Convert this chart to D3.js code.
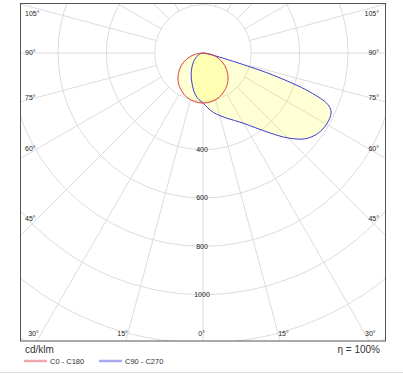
<!DOCTYPE html>
<html><head><meta charset="utf-8">
<script src="https://cdn.jsdelivr.net/npm/d3@7"></script>
<style>html,body{margin:0;padding:0;background:#fff;}svg{display:block;}</style>
</head><body>
<svg id="chart" width="403" height="375"></svg>
<script>
// ---- data (cd/klm) ----
const gammaRed = [0,10,20,30,40,50,60,70,80,90];
const redC0    = [207,204,195,179,159,133,104,71,36,0];   // C0 side (right)
const redC180  = [207,204,195,179,159,133,104,71,36,0];   // C180 side (left)

const gammaBlue = [0,5,10,15,20,25,30,35,40,45,50,55,60,65,67.5,70,72.5,75,77.5,80,85,90];
const blueC90   = [207,228,250,268,287,308,336,377,432,497,552,580,590,585,560,470,300,110,40,15,5,0];
const blueC270  = [207,193,177,155,133,115,98,83,69,58,48,38,30,22,19,15,12,9,7,5,2,0];

const ringValues  = [200,400,600,800,1000,1200,1400];
const ringLabels  = [400,600,800,1000];
const spokeAngles = d3.range(0,360,15);
const sideLabels  = [105,90,75,60,45];
const bottomLabels = [30,15,0];
const unitText = "cd/klm";
const etaText = "\u03b7 = 100%";
const legendNames = ["C0 - C180","C90 - C270"];

// ---- layout ----
const svg = d3.select("#chart");
const frame = {x0:20.5, y0:3.5, x1:385.5, y1:341};
const cx = 203, cy = 53;
const r = d3.scaleLinear().domain([0,1400]).range([0,1400*0.2417]);
const toRad = d => d*Math.PI/180;

svg.append("defs").append("clipPath").attr("id","clip")
  .append("rect").attr("x",frame.x0).attr("y",frame.y0)
  .attr("width",frame.x1-frame.x0).attr("height",frame.y1-frame.y0);

const plot = svg.append("g").attr("clip-path","url(#clip)");
const g = plot.append("g").attr("transform",`translate(${cx},${cy})`);

// grid circles
g.selectAll("circle.ring").data(ringValues).join("circle")
  .attr("r",d=>r(d)).attr("fill","none").attr("stroke","#dcdcdc").attr("stroke-width",1);
// spokes (angle measured from downward vertical)
g.selectAll("line.spoke").data(spokeAngles).join("line")
  .attr("x1",d=>r(200)*Math.sin(toRad(d))).attr("y1",d=>r(200)*Math.cos(toRad(d)))
  .attr("x2",d=>r(1600)*Math.sin(toRad(d))).attr("y2",d=>r(1600)*Math.cos(toRad(d)))
  .attr("stroke","#dcdcdc").attr("stroke-width",1);

// curves: d3 radial angle a = PI - gamma (right), PI + gamma (left)
function polyPoints(gam, right, left){
  const pts = [];
  for(let i=gam.length-1;i>=0;i--) pts.push([Math.PI+toRad(gam[i]), r(left[i])]);
  for(let i=1;i<gam.length;i++) pts.push([Math.PI-toRad(gam[i]), r(right[i])]);
  return pts;
}
const radial = d3.lineRadial().angle(d=>d[0]).radius(d=>d[1]).curve(d3.curveCatmullRomClosed.alpha(0.5));

const bluePts = polyPoints(gammaBlue, blueC90, blueC270);
const redPts  = polyPoints(gammaRed, redC0, redC180);

g.append("path").attr("d",radial(bluePts)).attr("fill","#ffff00").attr("fill-opacity",0.16).attr("stroke","none");
g.append("path").attr("d",radial(redPts)).attr("fill","#ffff00").attr("fill-opacity",0.16).attr("stroke","none");
g.append("path").attr("d",radial(bluePts)).attr("fill","none").attr("stroke","#3a3ad0").attr("stroke-width",1);
g.append("path").attr("d",radial(redPts)).attr("fill","none").attr("stroke","#e03a3a").attr("stroke-width",1);

// ring labels
g.selectAll("text.rl").data(ringLabels).join("text")
  .attr("x",-1).attr("y",d=>r(d)).attr("dy","0.35em").attr("text-anchor","middle")
  .attr("font-family","Liberation Sans, Arial, sans-serif").attr("font-size",7).attr("fill","#222")
  .text(d=>d);

// frame
svg.append("rect").attr("x",frame.x0).attr("y",frame.y0)
  .attr("width",frame.x1-frame.x0).attr("height",frame.y1-frame.y0)
  .attr("fill","none").attr("stroke","#555").attr("stroke-width",1);

// angle labels
const font = "Liberation Sans, Arial, sans-serif";
const inset = 17;
sideLabels.forEach(a=>{
  let y = cy + (cx - (frame.x0+inset))/Math.tan(toRad(a));
  y = Math.max(frame.y0+10, y);
  svg.append("text").attr("x",frame.x0+4.5).attr("y",y).attr("dy","0.35em")
    .attr("font-family",font).attr("font-size",7).attr("fill","#222").text(a+"\u00b0");
  svg.append("text").attr("x",frame.x1-6.5).attr("y",y).attr("dy","0.35em").attr("text-anchor","end")
    .attr("font-family",font).attr("font-size",7).attr("fill","#222").text(a+"\u00b0");
});
bottomLabels.forEach(a=>{
  const dx = (frame.y1-cy)*Math.tan(toRad(a));
  const yb = frame.y1-7.5;
  let xl = Math.max(frame.x0+17.5, cx - dx + 2);
  svg.append("text").attr("x",xl).attr("y",yb).attr("dy","0.35em").attr("text-anchor","end")
    .attr("font-family",font).attr("font-size",7).attr("fill","#222").text(a+"\u00b0");
  if(a===0) return;
  let xr = Math.min(frame.x1-20.5, cx + dx - 2);
  svg.append("text").attr("x",xr).attr("y",yb).attr("dy","0.35em").attr("text-anchor","start")
    .attr("font-family",font).attr("font-size",7).attr("fill","#222").text(a+"\u00b0");
});

// footer
svg.append("text").attr("x",25).attr("y",353).attr("font-family",font).attr("font-size",10)
  .attr("fill","#333").text(unitText);
svg.append("text").attr("x",380).attr("y",353).attr("text-anchor","end").attr("font-family",font)
  .attr("font-size",10).attr("fill","#333").text(etaText);
const legColors = ["#f4a6ae","#a8a8f2"];
const legX = [24,99];
legendNames.forEach((n,i)=>{
  svg.append("line").attr("x1",legX[i]).attr("x2",legX[i]+23).attr("y1",361).attr("y2",361)
    .attr("stroke",legColors[i]).attr("stroke-width",2.5);
  svg.append("text").attr("x",legX[i]+26).attr("y",364).attr("font-family",font).attr("font-size",7.5)
    .attr("fill","#333").text(n);
});
svg.append("line").attr("x1",0).attr("x2",403).attr("y1",372.5).attr("y2",372.5)
  .attr("stroke","#dddddd").attr("stroke-width",1);
</script>
</body></html>
